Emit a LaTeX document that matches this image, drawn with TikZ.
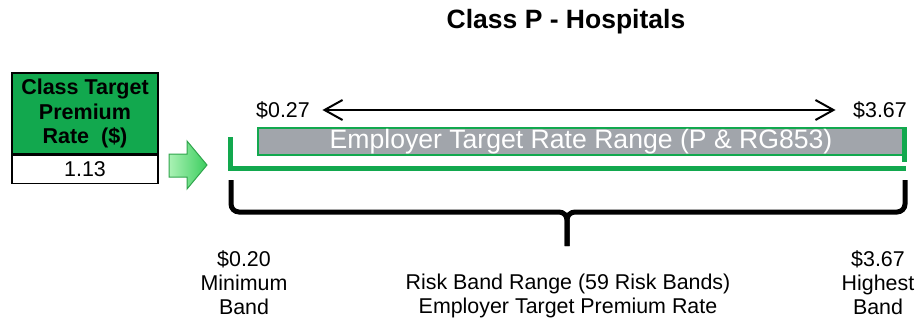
\documentclass[tikz,border=0pt]{standalone}
\usepackage{fontspec}
\setmainfont{Liberation Sans}
\usetikzlibrary{arrows.meta}
\definecolor{classgreen}{RGB}{18,168,78}
\definecolor{bargray}{RGB}{161,165,171}
\definecolor{arrowlight}{RGB}{170,242,180}
\definecolor{arrowdark}{RGB}{60,205,95}
\begin{document}
\begin{tikzpicture}[x = 1pt, y = -1pt]
    \tikzstyle{every node} = [inner sep = 0pt, font = \fontsize{21.4}{24}\selectfont];
    \tikzstyle{bandline} = [classgreen, line width = 5pt];
    \tikzstyle{bracket} = [black, line width = 5pt, rounded corners = 8pt];
    \useasboundingbox (0,0) rectangle (916,321);
    % title
    \node[anchor = base, font = \fontsize{26.5}{30}\selectfont\bfseries] (title) at (566,29) {Class P - Hospitals};
    % class rate box
    \node[draw, line width = 1.5pt, fill = classgreen, minimum width = 146pt, minimum height = 81pt, align = center, font = \fontsize{21.5}{24.5}\selectfont\bfseries] (ratehead) at (85,113.5) {Class Target\\Premium\\Rate\ \ (\$)};
    \node[draw, line width = 1.5pt, fill = white, minimum width = 146pt, minimum height = 28pt, anchor = north] (rateval) at (ratehead.south) {1.13};
    \draw[draw = arrowdark!80!black, line width = 1pt, left color = arrowlight, right color = arrowdark] (169,154) -- (187,154) -- (187,141) -- (207,165) -- (187,189) -- (187,177) -- (169,177) -- cycle;
    % target rate range
    \node (lowrate) at (283,110) {\$0.27};
    \node (highrate) at (880,110) {\$3.67};
    \draw[line width = 2pt, {Straight Barb[length = 18pt, width = 20pt]}-{Straight Barb[length = 18pt, width = 20pt]}, shorten < = 12.5pt, shorten > = 17.5pt] (lowrate) -- (highrate);
    \node[draw = classgreen, line width = 1.5pt, fill = bargray, text = white, minimum width = 646pt, minimum height = 27pt, font = \fontsize{26.6}{30}\selectfont] (raterange) at (581,141.5) {Employer Target Rate Range (P \& RG853)};
    \draw[bandline] (raterange.north east) -- ([yshift = -6pt]raterange.south east);
    % risk band range
    \draw[bandline] (230,137) -- (230,168) -- (906,168);
    \draw[bracket] (231,180) -- (231,212) -- (567,212) -- (567,246);
    \draw[bracket] (905,180) -- (905,212) -- (567,212) -- (567,246);
    \node[align = center] (minband) at (244,283) {\$0.20\\Minimum\\Band};
    \node[align = center] (riskband) at (568,296) {Risk Band Range (59 Risk Bands)\\Employer Target Premium Rate};
    \node[align = center] (maxband) at (878,283) {\$3.67\\Highest\\Band};
\end{tikzpicture}
\end{document}
